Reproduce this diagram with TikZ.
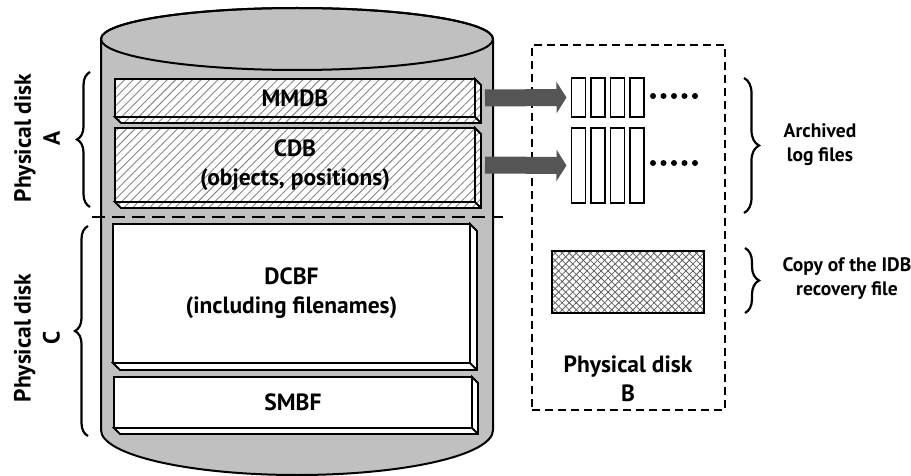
\documentclass[tikz,border=0pt]{standalone}
\usepackage{fontspec}
\setmainfont{PT Sans}
\usetikzlibrary{patterns.meta,decorations.pathreplacing,arrows.meta,calc}
\definecolor{cylgray}{RGB}{192,192,192}
\definecolor{arrgray}{RGB}{85,85,85}
\definecolor{hatchgray}{RGB}{135,135,135}
\definecolor{crossgray}{RGB}{95,95,95}
\begin{document}
\begin{tikzpicture}[x=1pt,y=-1pt,
  lbl/.style={font=\bfseries\fontsize{23.5}{29}\selectfont, align=center, inner sep=0},
  sidelbl/.style={font=\bfseries\fontsize{19.5}{24}\selectfont, align=center, inner sep=0},
  slab/.style={draw, line width=1.8pt, outer sep=0, inner sep=0, fill=white},
  hatched/.style={preaction={fill=white}, pattern={Lines[angle=45,distance=6pt,line width=0.9pt]}, pattern color=hatchgray},
  slabedge/.style={draw, line width=1.8pt, line join=miter},
  logfile/.style={draw, line width=1.8pt, fill=white, minimum width=14pt, inner sep=0, outer sep=0},
  bigarrow/.style={draw=arrgray, line width=17pt, -{Triangle[length=10pt,width=31pt]}, arrgray},
  bracedeco/.style={decorate, decoration={brace, amplitude=#1}, line width=2.2pt},
]
\useasboundingbox (0,0) rectangle (911,476);

% cylinder
\draw[line width=2pt, fill=cylgray] (101,39) -- (101,430)
  arc[start angle=180, end angle=0, x radius=196, y radius=45]
  -- (493,39) arc[start angle=0, end angle=-180, x radius=196, y radius=31] -- cycle;
\draw[line width=2pt] (297,39) ellipse[x radius=196, y radius=31];

% slabs
\node[slab, hatched, minimum width=360pt, minimum height=38pt] (mmdb) at (295,98) {};
\node[lbl] (mmdbt) at (mmdb.center) {MMDB};
\draw[slabedge, hatched] (mmdb.north east) -- ++(6,6) -- ($(mmdb.south east)+(6,6)$) -- ($(mmdb.south west)+(6,6)$) -- (mmdb.south west) -- (mmdb.south east) -- cycle;
\draw[line width=1.8pt] (mmdb.south east) -- ++(6,6);

\node[slab, hatched, minimum width=360pt, minimum height=74pt] (cdb) at (295,165) {};
\node[lbl] (cdbt) at (cdb.center) {CDB\\(objects, positions)};
\draw[slabedge, hatched] (cdb.north east) -- ++(6,6) -- ($(cdb.south east)+(6,6)$) -- ($(cdb.south west)+(6,6)$) -- (cdb.south west) -- (cdb.south east) -- cycle;
\draw[line width=1.8pt] (cdb.south east) -- ++(6,6);

\node[slab, minimum width=357pt, minimum height=139pt] (dcbf) at (291.5,293.5) {};
\node[lbl] (dcbft) at (dcbf.center) {DCBF\\(including filenames)};
\draw[slabedge, fill=white] (dcbf.north east) -- ++(7,7) -- ($(dcbf.south east)+(7,7)$) -- ($(dcbf.south west)+(7,7)$) -- (dcbf.south west) -- (dcbf.south east) -- cycle;
\draw[line width=1.8pt] (dcbf.south east) -- ++(7,7);

\node[slab, minimum width=358pt, minimum height=51pt] (smbf) at (293,402.5) {};
\node[lbl] (smbft) at (smbf.center) {SMBF};
\draw[slabedge, fill=white] (smbf.north east) -- ++(6,6) -- ($(smbf.south east)+(6,6)$) -- ($(smbf.south west)+(6,6)$) -- (smbf.south west) -- (smbf.south east) -- cycle;
\draw[line width=1.8pt] (smbf.south east) -- ++(6,6);

% dashed separator
\coordinate (dl) at (92,217);
\coordinate (dr) at (503,217);
\draw[line width=2pt, dash pattern=on 13pt off 7pt] (dl) -- (dr);

% physical disk B
\node[draw, line width=1.5pt, dash pattern=on 8pt off 5pt, minimum width=193pt, minimum height=365pt, inner sep=0] (diskB) at (628.5,227.5) {};
\node[lbl] (diskBt) at (628,379) {Physical disk\\B};

% log files
\foreach \i/\x in {1/578.5,2/598,3/617.5,4/637}{
  \node[logfile, minimum height=39pt] (l1\i) at (\x,97.5) {};
  \node[logfile, minimum height=75pt] (l2\i) at (\x,165.5) {};
}
\foreach \x in {653,663.5,674,684.5,695}{
  \fill (\x,96) circle[radius=3];
  \fill (\x,163) circle[radius=3];
}

% arrows
\draw[bigarrow] ([xshift=10pt]mmdb.east) -- ([xshift=-5pt]l11.west);
\draw[bigarrow] ([xshift=10pt]cdb.east) -- ([xshift=-5pt]l21.west);

% IDB recovery copy
\node[draw, line width=1.6pt, minimum width=152pt, minimum height=62pt, inner sep=0,
  preaction={fill=white},
  preaction={pattern={Lines[angle=45,distance=5pt,line width=0.8pt]}, pattern color=crossgray},
  pattern={Lines[angle=-45,distance=5pt,line width=0.8pt]}, pattern color=crossgray] (idb) at (628,282) {};

% braces
\coordinate (ba1) at (90,207); \coordinate (ba2) at (90,72);
\draw[bracedeco=13pt] (ba1) -- (ba2);
\node[lbl, rotate=90] (diskAt) at (37,138) {Physical disk\\A};
\coordinate (bc1) at (88,436); \coordinate (bc2) at (88,226);
\draw[bracedeco=13pt] (bc1) -- (bc2);
\node[lbl, rotate=90] (diskCt) at (37,338) {Physical disk\\C};

\coordinate (br1) at (744,78); \coordinate (br2) at (744,213);
\draw[bracedeco=15pt] (br1) -- (br2);
\node[sidelbl] (archt) at (820,145) {Archived\\log files};
\coordinate (bi1) at (745,248); \coordinate (bi2) at (745,313);
\draw[bracedeco=14pt] (bi1) -- (bi2);
\node[sidelbl] (copyt) at (847,279) {Copy of the IDB\\recovery file};
\end{tikzpicture}
\end{document}
